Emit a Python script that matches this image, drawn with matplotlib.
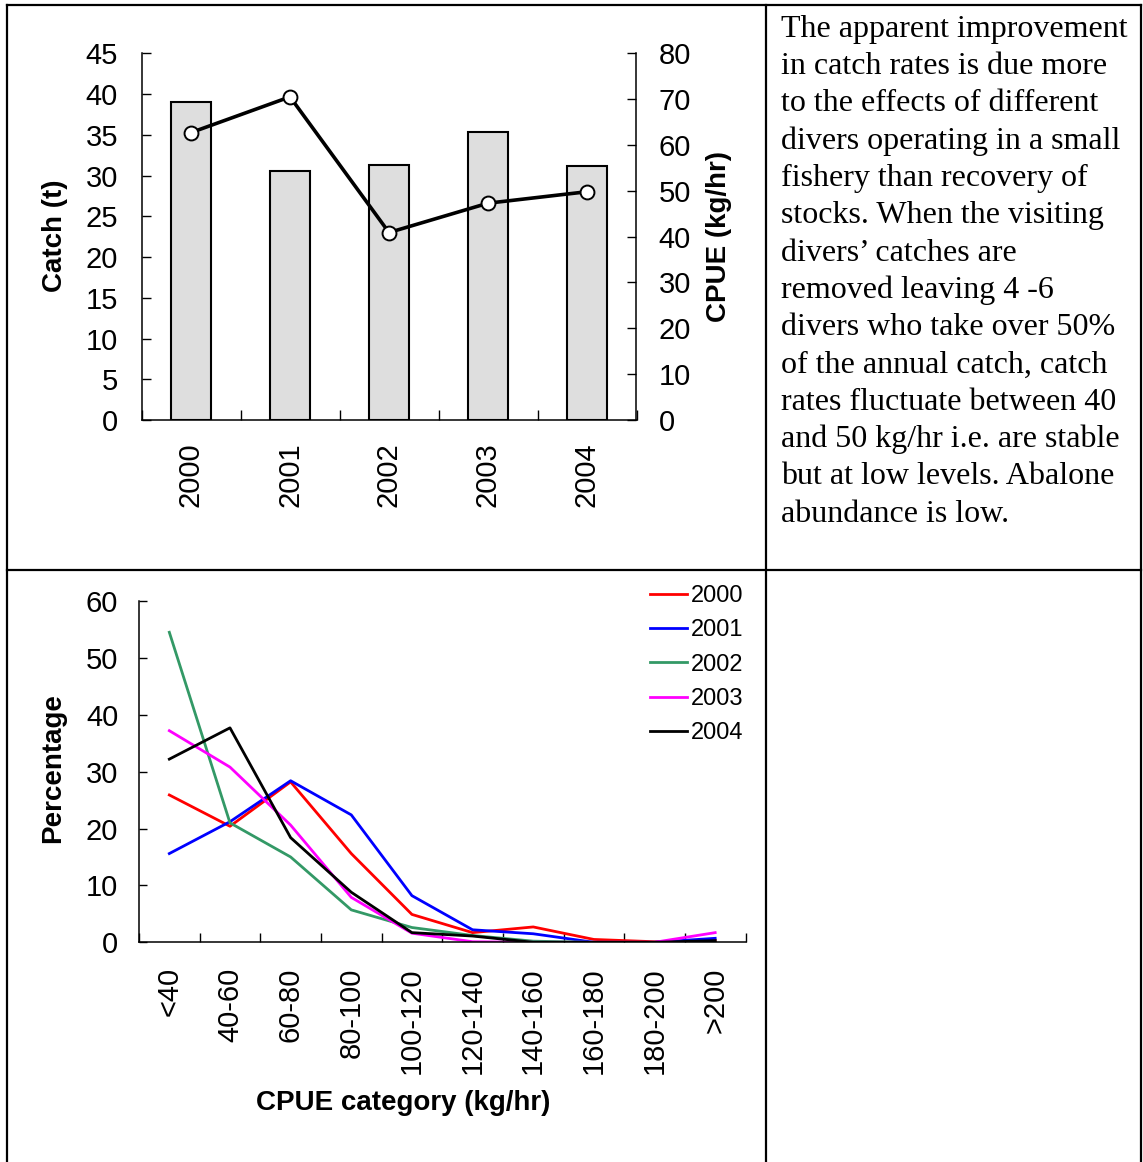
import matplotlib
matplotlib.use("Agg")
import matplotlib.pyplot as plt
from matplotlib.lines import Line2D
import numpy as np

plt.rcParams['font.family'] = ['Liberation Sans', 'DejaVu Sans']

# catch and CPUE by year (top chart)
years = ['2000', '2001', '2002', '2003', '2004']
catch_t = [39.0, 30.5, 31.3, 35.3, 31.2]
cpue = [62.7, 70.5, 40.9, 47.3, 49.8]

# CPUE category distribution (bottom chart)
categories = ['<40', '40-60', '60-80', '80-100', '100-120', '120-140',
              '140-160', '160-180', '180-200', '>200']
pct_2000 = [25.9, 20.4, 28.2, 15.6, 4.9, 1.7, 2.7, 0.5, 0.1, 0.3]
pct_2001 = [15.6, 21.2, 28.4, 22.4, 8.2, 2.2, 1.5, 0.0, 0.0, 0.7]
pct_2002 = [54.5, 21.0, 15.0, 5.7, 2.6, 1.2, 0.2, 0.0, 0.0, 0.0]
pct_2003 = [37.2, 30.8, 20.6, 7.9, 1.6, 0.1, 0.0, 0.0, 0.0, 1.7]
pct_2004 = [32.2, 37.7, 18.4, 8.8, 1.7, 1.1, 0.0, 0.0, 0.0, 0.3]
series = [pct_2000, pct_2001, pct_2002, pct_2003, pct_2004]
series_colors = ['#ff0000', '#0000ff', '#339966', '#ff00ff', '#000000']

paragraph = [
    "The apparent improvement",
    "in catch rates is due more",
    "to the effects of different",
    "divers operating in a small",
    "fishery than recovery of",
    "stocks. When the visiting",
    "divers\u2019 catches are",
    "removed leaving 4 -6",
    "divers who take over 50%",
    "of the annual catch, catch",
    "rates fluctuate between 40",
    "and 50 kg/hr i.e. are stable",
    "but at low levels. Abalone",
    "abundance is low.",
]

W, H = 1143, 1162
fig = plt.figure(figsize=(W / 100, H / 100), dpi=100)


def fx(px):
    return px / W


def fy(py):
    return 1 - py / H


# table grid
for x0, y0, x1, y1 in [(6.7, 5, 1141, 5), (6.7, 570, 1141, 570),
                       (6.7, 5, 6.7, H), (766, 5, 766, H), (1141, 5, 1141, H)]:
    fig.add_artist(Line2D([fx(x0), fx(x1)], [fy(y0), fy(y1)],
                          transform=fig.transFigure, color='black', lw=1.6))

fs = 20    # axis titles
tfs = 21   # tick labels

# ---- top chart: bars + CPUE line ----
ax = fig.add_axes([fx(141.5), fy(420), fx(636.5) - fx(141.5), fy(53.3) - fy(420)])
xpos = np.arange(len(years))
ax.bar(xpos, catch_t, width=0.41, color='#dedede', edgecolor='black', linewidth=1.5, zorder=2)
ax.set_xlim(-0.5, len(years) - 0.5)
ax.set_ylim(0, 45)
ax.set_yticks(np.arange(0, 46, 5))
ax.set_xticks(xpos)
ax.set_xticklabels(years, rotation=90, va='top', ha='center')
ax.set_xticks(np.arange(-0.5, len(years), 1), minor=True)
ax.tick_params(axis='x', which='major', length=0, pad=16, labelsize=tfs)
ax.tick_params(axis='x', which='minor', length=7, direction='in', width=1)
ax.tick_params(axis='y', direction='in', length=6.5, pad=17, labelsize=tfs, width=1)
ax.spines['top'].set_visible(False)
ax.spines['right'].set_visible(False)
for s in ['left', 'bottom']:
    ax.spines[s].set_linewidth(1.1)

ax2 = ax.twinx()
ax2.plot(xpos, cpue, color='black', lw=2.6, marker='o', markersize=10,
         markerfacecolor='white', markeredgecolor='black', markeredgewidth=1.4, zorder=3)
ax2.set_ylim(0, 80)
ax2.set_yticks(np.arange(0, 81, 10))
ax2.tick_params(axis='y', direction='in', length=6.5, pad=16, labelsize=tfs, width=1)
ax2.spines['top'].set_visible(False)
ax2.spines['left'].set_visible(False)
ax2.spines['bottom'].set_visible(False)
ax2.spines['right'].set_linewidth(1.1)

fig.text(fx(55), fy(236), 'Catch (t)', rotation=90, ha='center', va='center',
         fontsize=fs, fontweight='bold')
fig.text(fx(719), fy(236), 'CPUE (kg/hr)', rotation=90, ha='center', va='center',
         fontsize=fs, fontweight='bold')

# ---- paragraph ----
for i, line in enumerate(paragraph):
    fig.text(fx(781), fy(36.7 + 37.3 * i), line, ha='left', va='baseline',
             fontsize=23, family=['Liberation Serif', 'DejaVu Serif'])

# ---- bottom chart: distribution lines ----
bx = fig.add_axes([fx(139), fy(942.3), fx(745.5) - fx(139), fy(601) - fy(942.3)])
cpos = np.arange(len(categories))
for vals, col, yr in zip(series, series_colors, years):
    bx.plot(cpos, vals, color=col, lw=2.0, label=yr)
bx.set_xlim(-0.5, len(categories) - 0.5)
bx.set_ylim(0, 60)
bx.set_yticks(np.arange(0, 61, 10))
bx.set_xticks(cpos)
bx.set_xticklabels(categories, rotation=90, va='top', ha='center')
bx.set_xticks(np.arange(-0.5, len(categories), 1), minor=True)
bx.tick_params(axis='x', which='major', length=0, pad=18, labelsize=tfs)
bx.tick_params(axis='x', which='minor', length=6.5, direction='in', width=1)
bx.tick_params(axis='y', direction='in', length=6, pad=15, labelsize=tfs, width=1)
bx.spines['top'].set_visible(False)
bx.spines['right'].set_visible(False)
for s in ['left', 'bottom']:
    bx.spines[s].set_linewidth(1.1)

bx.legend(loc='upper left', bbox_to_anchor=(fx(650), fy(585)),
          bbox_transform=fig.transFigure, frameon=False, fontsize=17,
          handlelength=1.55, handletextpad=0.2, labelspacing=0.52,
          borderpad=0, borderaxespad=0)

fig.text(fx(53), fy(768), 'Percentage', rotation=90, ha='center', va='center',
         fontsize=fs, fontweight='bold')
fig.text(fx(403), fy(1103), 'CPUE category (kg/hr)', ha='center', va='center',
         fontsize=fs, fontweight='bold')

fig.savefig('out.png', dpi=100)
